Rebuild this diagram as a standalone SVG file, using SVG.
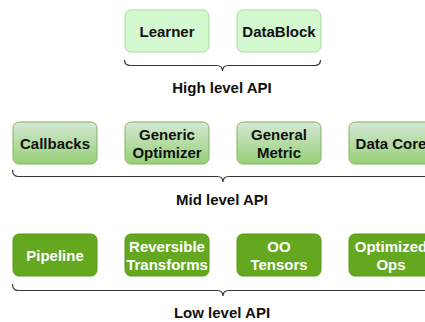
<svg xmlns="http://www.w3.org/2000/svg" width="425" height="322" viewBox="0 0 425 322">
  <style>
    .box { stroke-width: 1; }
    .high { fill: #d4f8d0; stroke: #a6da9c; }
    .mid { fill: url(#midGrad); stroke: #82b366; }
    .low { fill: #64a820; stroke: #559a16; }
    .label { font-family: "Liberation Sans", Arial, sans-serif; font-weight: bold; font-size: 15px; text-anchor: middle; }
    .dark { fill: #111; }
    .light { fill: #ffffff; }
    .brace { fill: none; stroke: #333; stroke-width: 1.2; }
  </style>
  <defs>
    <linearGradient id="midGrad" x1="0" y1="0" x2="0" y2="1">
      <stop offset="0" stop-color="#d5e8d4"/>
      <stop offset="1" stop-color="#97d077"/>
    </linearGradient>
  </defs>
  <rect width="425" height="322" fill="#ffffff"/>

  <!-- High level row -->
  <g id="learner">
    <rect class="box high" x="125" y="10" width="84" height="42" rx="6"/>
    <text class="label dark" x="167" y="36.5">Learner</text>
  </g>
  <g id="datablock">
    <rect class="box high" x="237" y="10" width="84" height="42" rx="6"/>
    <text class="label dark" x="279" y="36.5">DataBlock</text>
  </g>

  <!-- Mid level row -->
  <g id="callbacks">
    <rect class="box mid" x="13" y="122" width="84" height="42" rx="6"/>
    <text class="label dark" x="55" y="148.5">Callbacks</text>
  </g>
  <g id="generic-optimizer">
    <rect class="box mid" x="125" y="122" width="84" height="42" rx="6"/>
    <text class="label dark" x="167" y="139.5">Generic</text>
    <text class="label dark" x="167" y="157.5">Optimizer</text>
  </g>
  <g id="general-metric">
    <rect class="box mid" x="237" y="122" width="84" height="42" rx="6"/>
    <text class="label dark" x="279" y="139.5">General</text>
    <text class="label dark" x="279" y="157.5">Metric</text>
  </g>
  <g id="data-core">
    <rect class="box mid" x="349" y="122" width="84" height="42" rx="6"/>
    <text class="label dark" x="391" y="148.5">Data Core</text>
  </g>

  <!-- Low level row -->
  <g id="pipeline">
    <rect class="box low" x="13" y="234" width="84" height="42" rx="6"/>
    <text class="label light" x="55" y="260.5">Pipeline</text>
  </g>
  <g id="reversible-transforms">
    <rect class="box low" x="125" y="234" width="84" height="42" rx="6"/>
    <text class="label light" x="167" y="251.5">Reversible</text>
    <text class="label light" x="167" y="269.5">Transforms</text>
  </g>
  <g id="oo-tensors">
    <rect class="box low" x="237" y="234" width="84" height="42" rx="6"/>
    <text class="label light" x="279" y="251.5">OO</text>
    <text class="label light" x="279" y="269.5">Tensors</text>
  </g>
  <g id="optimized-ops">
    <rect class="box low" x="349" y="234" width="84" height="42" rx="6"/>
    <text class="label light" x="391" y="251.5">Optimized</text>
    <text class="label light" x="391" y="269.5">Ops</text>
  </g>

  <!-- Level braces -->
  <g id="braces">
    <path class="brace" d="M124.5,60 Q124.5,65.5 130.5,65.5 L216.5,65.5 Q222.5,65.5 222.5,71 Q222.5,65.5 228.5,65.5 L314.5,65.5 Q320.5,65.5 320.5,60"/>
    <path class="brace" d="M12.5,170 Q12.5,176.5 18.5,176.5 L217,176.5 Q223,176.5 223,182 Q223,176.5 229,176.5 L427.5,176.5 Q433.5,176.5 433.5,170"/>
    <path class="brace" d="M12.5,284 Q12.5,290.5 18.5,290.5 L217,290.5 Q223,290.5 223,296 Q223,290.5 229,290.5 L427.5,290.5 Q433.5,290.5 433.5,284"/>
  </g>

  <!-- Level captions -->
  <g id="captions">
    <text class="label dark" x="222" y="92.5">High level API</text>
    <text class="label dark" x="222" y="205">Mid level API</text>
    <text class="label dark" x="222" y="317.5">Low level API</text>
  </g>
</svg>
